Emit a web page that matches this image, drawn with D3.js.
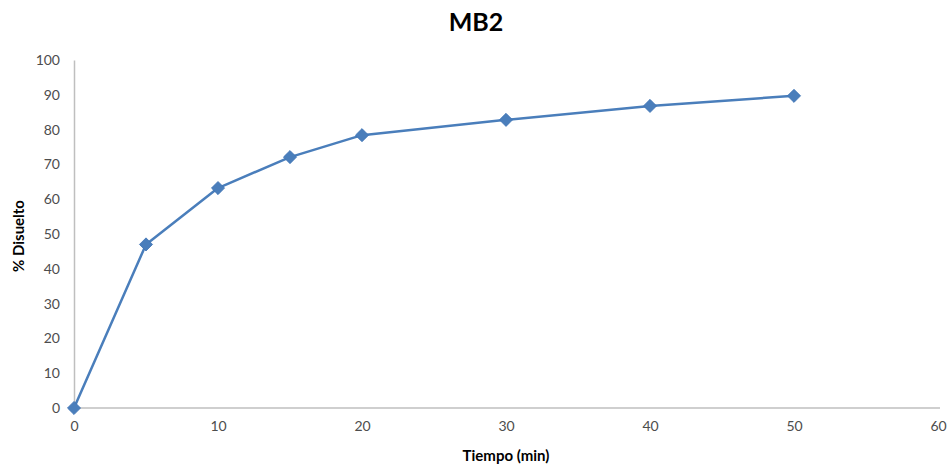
<!DOCTYPE html>
<html>
<head>
<meta charset="utf-8">
<script src="https://cdn.jsdelivr.net/npm/d3@7"></script>
<style>
  html, body { margin: 0; padding: 0; background: #fff; }
  svg { display: block; }
  text { font-family: Lato, "Open Sans", "Liberation Sans", sans-serif; }
</style>
</head>
<body>
<svg id="chart" width="951" height="466"></svg>
<script>
// Dissolution profile MB2
const tiempo = [0, 5, 10, 15, 20, 30, 40, 50];
const disuelto = [0, 47, 63.2, 72.1, 78.4, 82.8, 86.8, 89.7];
const xTicks = [0, 10, 20, 30, 40, 50, 60];
const yTicks = [0, 10, 20, 30, 40, 50, 60, 70, 80, 90, 100];

const svg = d3.select("#chart");
const x = d3.scaleLinear().domain([0, 60]).range([74, 938]);
const y = d3.scaleLinear().domain([0, 100]).range([408, 60]);

// Title
svg.append("text")
  .attr("x", 476).attr("y", 31)
  .attr("text-anchor", "middle")
  .attr("font-size", 25).attr("font-weight", "bold")
  .attr("fill", "#000")
  .text("MB2");

// Axes
const xAxis = svg.append("g")
  .attr("transform", `translate(0,${y(0)})`)
  .call(d3.axisBottom(x).tickValues(xTicks).tickSize(0).tickPadding(13));
const yAxis = svg.append("g")
  .attr("transform", `translate(${x(0)},0)`)
  .call(d3.axisLeft(y).tickValues(yTicks).tickSize(0).tickPadding(14));

[xAxis, yAxis].forEach(g => {
  g.select(".domain").attr("stroke", "#bfbfbf").attr("stroke-width", 1.5);
  g.selectAll("text").attr("font-size", 14).attr("fill", "#4d4d4d")
    .attr("font-family", "Lato, 'Open Sans', sans-serif");
});
xAxis.select(".domain").attr("d", `M${x(0)},0H${x(60) + 2}`);

// Axis titles
svg.append("text")
  .attr("x", 506).attr("y", 461)
  .attr("text-anchor", "middle")
  .attr("font-size", 15).attr("font-weight", "bold")
  .text("Tiempo (min)");
svg.append("text")
  .attr("transform", "translate(24,236) rotate(-90)")
  .attr("text-anchor", "middle")
  .attr("font-size", 15).attr("font-weight", "bold")
  .text("% Disuelto");

// Series line
const data = tiempo.map((t, i) => ({ t, v: disuelto[i] }));
svg.append("path")
  .datum(data)
  .attr("fill", "none")
  .attr("stroke", "#4a7ebb")
  .attr("stroke-width", 2.5)
  .attr("stroke-linejoin", "round")
  .attr("d", d3.line().x(d => x(d.t)).y(d => y(d.v)));

// Diamond markers
svg.append("g").selectAll("path")
  .data(data)
  .join("path")
  .attr("transform", d => `translate(${x(d.t)},${y(d.v)})`)
  .attr("d", d3.symbol(d3.symbolDiamond2, 110)())
  .attr("fill", "#4a7ebb")
  .attr("stroke", "#3f73b5")
  .attr("stroke-width", 0.8);
</script>
</body>
</html>
